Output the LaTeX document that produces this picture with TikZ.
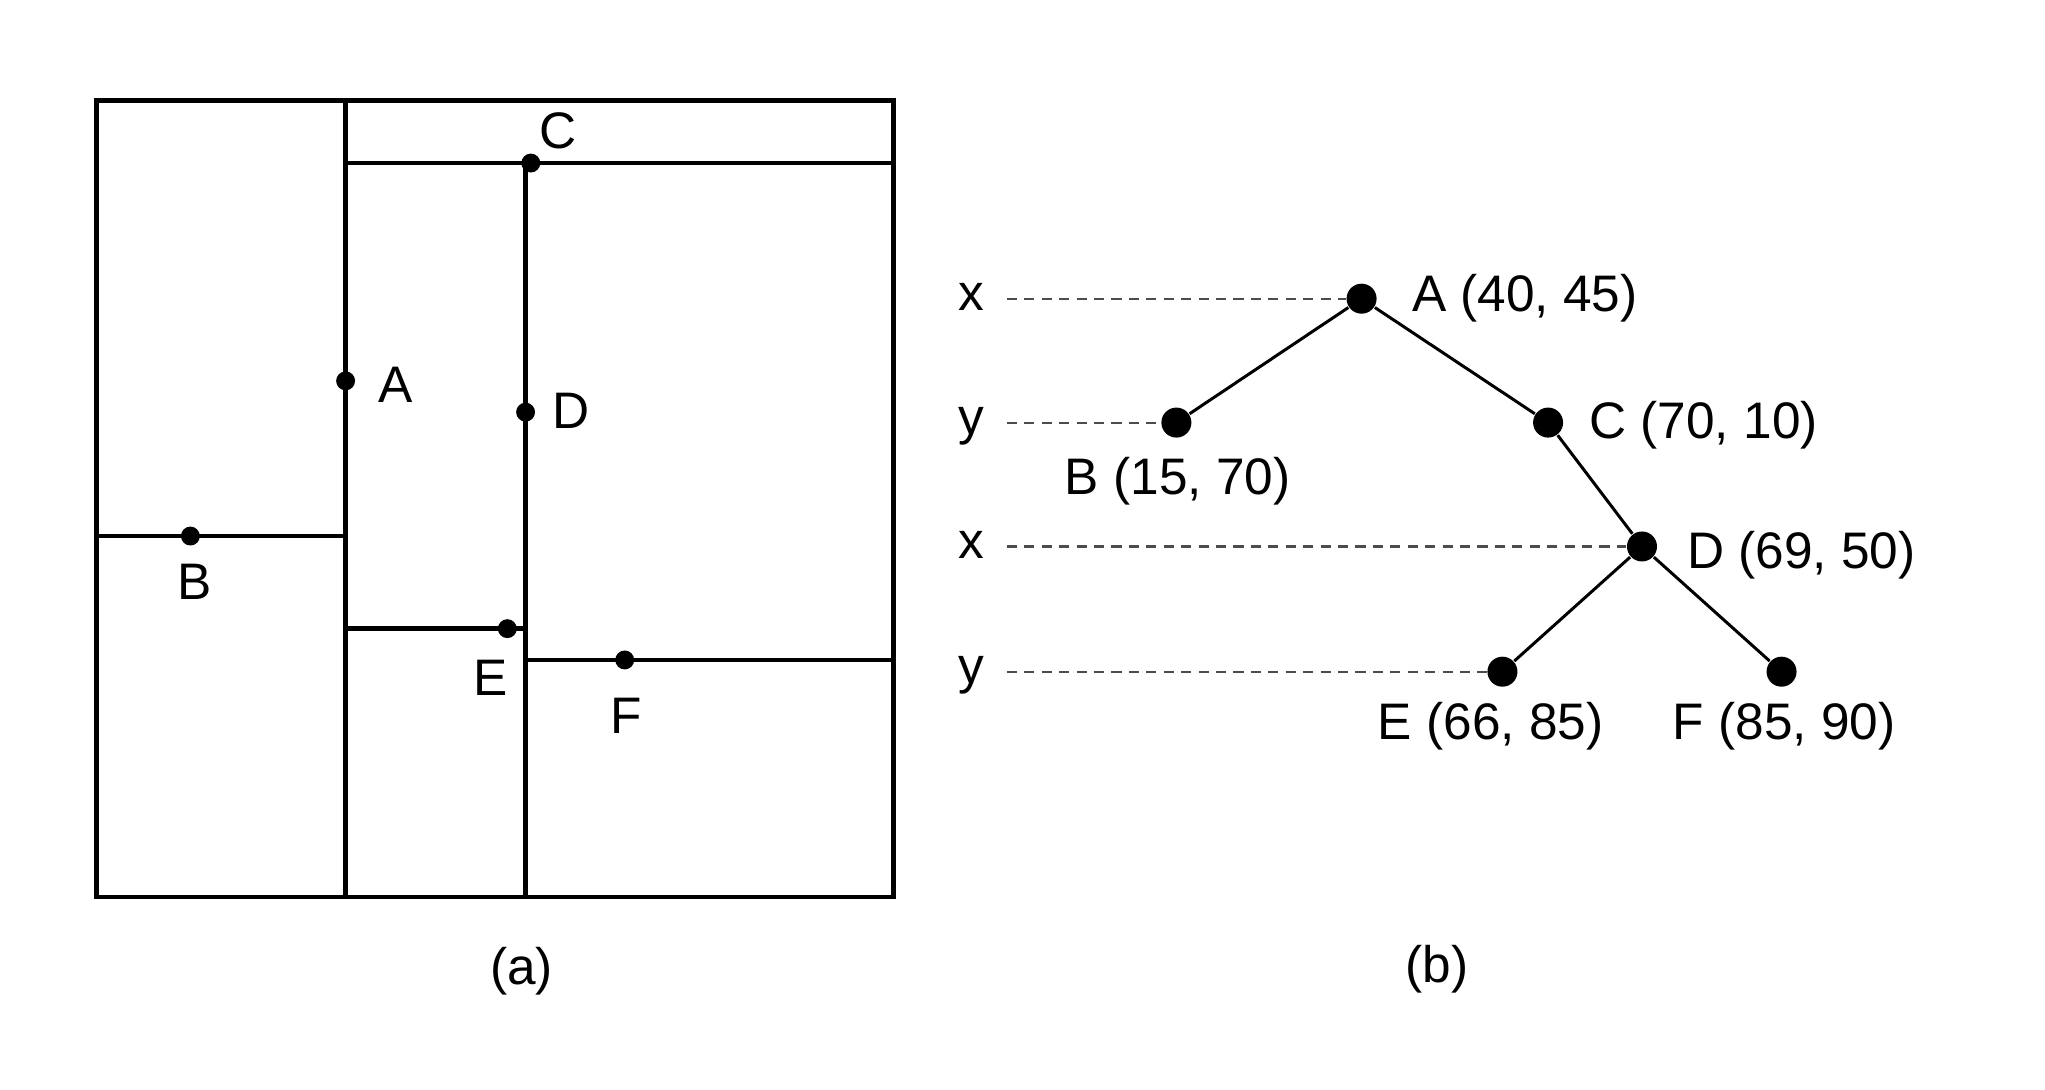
\documentclass[tikz,border=0pt]{standalone}
\usepackage{fontspec}
\setmainfont{Liberation Sans}
\begin{document}
\begin{tikzpicture}[x=0.01cm,y=-0.01cm,
  part/.style={line width=0.95pt,line cap=rect},
  pdot/.style={circle,fill=black,inner sep=0pt,minimum size=0.145cm},
  tdot/.style={circle,fill=black,inner sep=0pt,minimum size=0.23cm},
  edge/.style={line width=0.65pt},
  guide/.style={line width=0.45pt,black!70,dash pattern=on 2.2pt off 1.6pt},
  lbl/.style={font=\fontsize{11.2}{13}\selectfont,inner sep=0pt},
]
\useasboundingbox (0,0) rectangle (1568,835);
% ---------- (a) partition ----------
\draw[part] (74,77) rectangle (685,688);
\draw[part] (265,77) -- (265,688);
\draw[part] (265,125) -- (685,125);
\draw[part] (403,125) -- (403,688);
\draw[part] (74,411) -- (265,411);
\draw[part] (265,482) -- (403,482);
\draw[part] (403,506) -- (685,506);
\node[pdot] (pa) at (265,292) {};
\node[pdot] (pc) at (407,125) {};
\node[pdot] (pd) at (403,316) {};
\node[pdot] (pb) at (146,411) {};
\node[pdot] (pe) at (389,482) {};
\node[pdot] (pf) at (479,506) {};
\node[lbl] (la) at (303,295) {A};
\node[lbl] (lc) at (428,100) {C};
\node[lbl] (ld) at (438,315) {D};
\node[lbl] (lb) at (149,446) {B};
\node[lbl] (le) at (376,520) {E};
\node[lbl] (lf) at (480,549) {F};
\node[lbl] (capa) at (400,745) {(a)};
% ---------- (b) tree ----------
\node[tdot] (A) at (1044,229) {};
\node[tdot] (B) at (902,324) {};
\node[tdot] (C) at (1187,324) {};
\node[tdot] (D) at (1259,419) {};
\node[tdot] (E) at (1152,515) {};
\node[tdot] (F) at (1366,515) {};
\draw[edge] (A) -- (B);
\draw[edge] (A) -- (C);
\draw[edge] (C) -- (D);
\draw[edge] (D) -- (E);
\draw[edge] (D) -- (F);
\node[lbl,anchor=base] (x1) at (745,238) {x};
\node[lbl,anchor=base] (y1) at (745,333) {y};
\node[lbl,anchor=base] (x2) at (745,428) {x};
\node[lbl,anchor=base] (y2) at (745,524) {y};
\coordinate (g1) at (772,229);
\coordinate (g2) at (772,324);
\coordinate (g3) at (772,419);
\coordinate (g4) at (772,515);
\draw[guide] (g1) -- (A);
\draw[guide] (g2) -- (B);
\draw[guide] (g3) -- (D);
\draw[guide] (g4) -- (E);
\node[lbl,anchor=base west] (tA) at (1082,239) {A (40, 45)};
\node[lbl,anchor=base west] (tC) at (1218,336) {C (70, 10)};
\node[lbl,anchor=base west] (tD) at (1293,436) {D (69, 50)};
\node[lbl,anchor=base] (tB) at (903,379) {B (15, 70)};
\node[lbl,anchor=base] (tE) at (1143,567) {E (66, 85)};
\node[lbl,anchor=base] (tF) at (1368,567) {F (85, 90)};
\node[lbl] (capb) at (1102,743) {(b)};
\end{tikzpicture}
\end{document}
